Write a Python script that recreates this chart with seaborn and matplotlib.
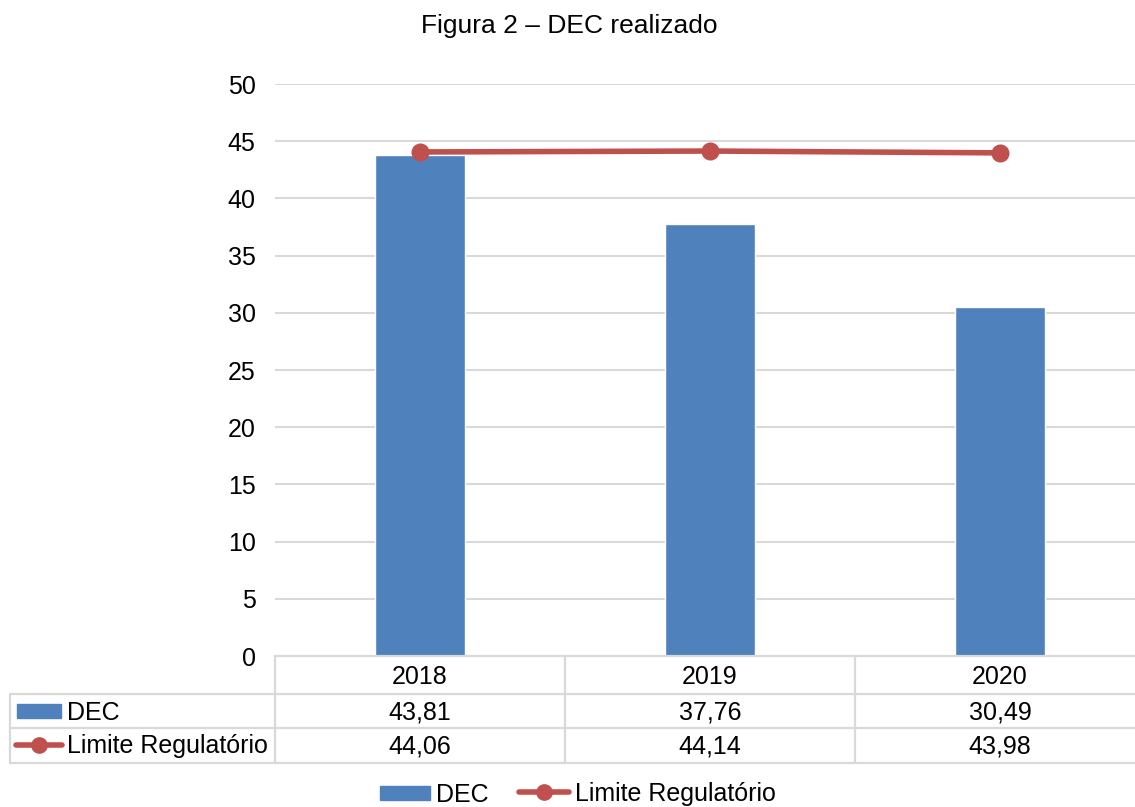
import matplotlib
matplotlib.use("Agg")
import matplotlib.pyplot as plt
import seaborn as sns
import pandas as pd
from matplotlib.patches import Rectangle
from matplotlib.lines import Line2D

years = ["2018", "2019", "2020"]
dec = [43.81, 37.76, 30.49]
limite = [44.06, 44.14, 43.98]
series_names = ["DEC", "Limite Regulatório"]
y_ticks = [0, 5, 10, 15, 20, 25, 30, 35, 40, 45, 50]

BLUE = "#4F81BD"
RED = "#C0504D"
GRID = "#D9D9D9"

sns.set_theme(style="white")
plt.rcParams["font.family"] = ["Liberation Sans", "DejaVu Sans"]
plt.rcParams["text.color"] = "black"

W, H = 1135, 807
fig = plt.figure(figsize=(W / 100, H / 100), dpi=100)
fig.patch.set_facecolor("white")

fs = 18

# main plot area (pixel layout converted to figure fractions)
left, right, top, bottom = 275, 1145, 84, 656
ax = fig.add_axes([left / W, 1 - bottom / H, (right - left) / W, (bottom - top) / H])

df = pd.DataFrame({"year": years, "DEC": dec})
sns.barplot(data=df, x="year", y="DEC", color=BLUE, width=0.31, saturation=1,
            ax=ax, zorder=2)
ax.plot(range(len(years)), limite, color=RED, lw=4, marker="o", ms=12,
        zorder=3, solid_capstyle="round")

ax.set_xlim(-0.5, len(years) - 0.5)
ax.set_ylim(0, 50)
ax.set_yticks(y_ticks)
ax.set_yticklabels([str(t) for t in y_ticks], fontsize=fs, color="black")
ax.tick_params(axis="y", length=0, pad=14)
ax.set_xticks([])
ax.set_xlabel("")
ax.set_ylabel("")
for s in ax.spines.values():
    s.set_visible(False)
for t in y_ticks[1:]:
    ax.axhline(t, color=GRID, lw=1.5, zorder=1)

# overlay in pixel coordinates for table, legend and title
ov = fig.add_axes([0, 0, 1, 1], zorder=5)
ov.set_xlim(0, W)
ov.set_ylim(H, 0)
ov.axis("off")
ov.patch.set_alpha(0)

ov.text(569, 26, "Figura 2 – DEC realizado", ha="center", va="center",
        fontsize=19, color="black")

# data table
row_y = [656, 694, 728, 763]
col_x = [275, 565, 855, 1145]
lw_t = 1.6
ov.plot([275, 1145], [656, 656], color=GRID, lw=lw_t, clip_on=False)
for y in row_y[1:]:
    ov.plot([10, 1145], [y, y], color=GRID, lw=lw_t, clip_on=False)
ov.plot([10, 10], [694, 763], color=GRID, lw=lw_t)
for x in col_x:
    ov.plot([x, x], [656, 763], color=GRID, lw=lw_t, clip_on=False)

def fmt(v):
    return f"{v:.2f}".replace(".", ",")

kw = dict(va="center_baseline", fontsize=fs, color="black")
for i, yr in enumerate(years):
    cx = (col_x[i] + col_x[i + 1]) / 2
    ov.text(cx, 674, yr, ha="center", **kw)
    ov.text(cx, 710, fmt(dec[i]), ha="center", **kw)
    ov.text(cx, 744, fmt(limite[i]), ha="center", **kw)

# row headers with legend keys
ov.add_patch(Rectangle((17, 704), 44, 14, color=BLUE))
ov.text(67, 710, series_names[0], ha="left", **kw)
ov.add_line(Line2D([16, 62], [745, 745], color=RED, lw=4, solid_capstyle="round"))
ov.plot([39], [745], "o", color=RED, ms=11)
ov.text(67, 744, series_names[1], ha="left", **kw)

# bottom legend
ov.add_patch(Rectangle((380, 786), 50, 14, color=BLUE))
ov.text(436, 792, series_names[0], ha="left", **kw)
ov.add_line(Line2D([519, 569], [792, 792], color=RED, lw=4, solid_capstyle="round"))
ov.plot([544], [792], "o", color=RED, ms=11)
ov.text(575, 792, series_names[1], ha="left", **kw)

fig.savefig("out.png", dpi=100, facecolor="white")
